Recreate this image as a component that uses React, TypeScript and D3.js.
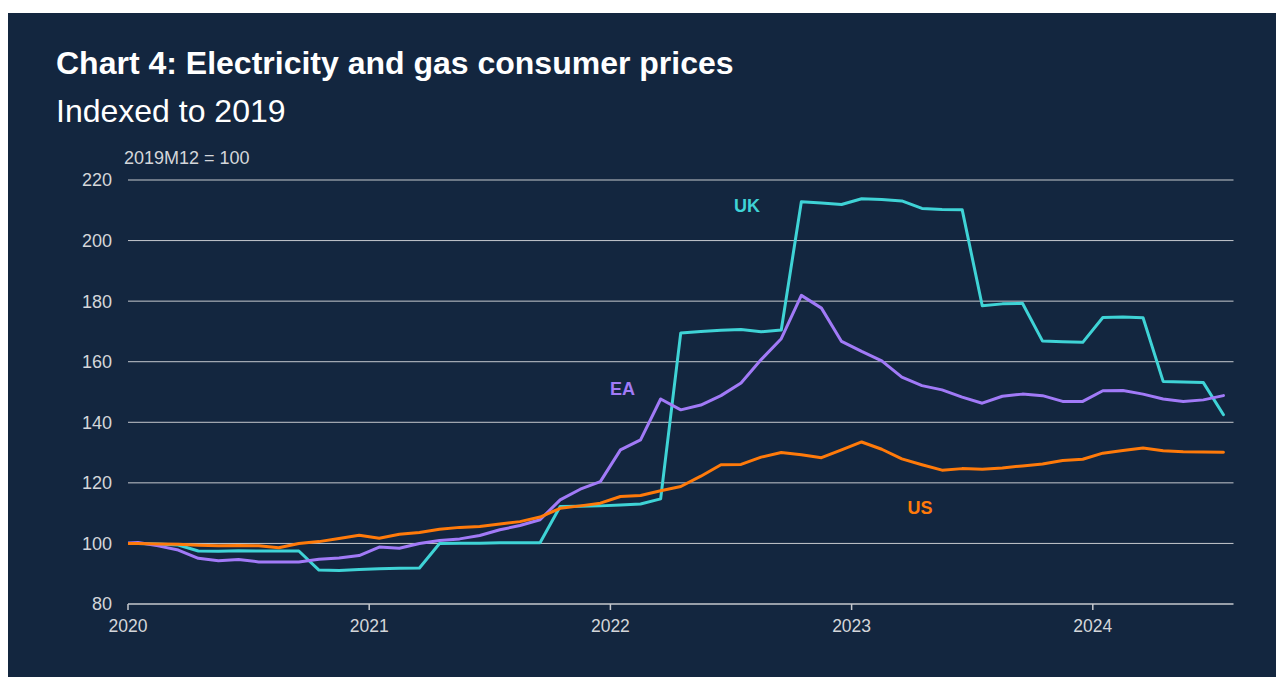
import React from "react";
import * as d3 from "d3";

// Months from 2019M12 to 2024M7 (index -1 = Dec 2019, 0 = Jan 2020)
const startYear = 2019;
const startMonth = 11; // December (0-based)

const ukValues = [
  100,
  100, 99.8, 99.5, 97.5, 97.4, 97.6, 97.5, 97.5, 97.5, 91.2, 91.1, 91.4,
  91.6, 91.8, 91.9, 100.0, 100.1, 100.1, 100.2, 100.2, 100.2, 112.2, 112.3, 112.4,
  112.7, 113.0, 114.7, 169.5, 170.0, 170.4, 170.6, 169.9, 170.5, 212.8, 212.4, 211.9,
  213.8, 213.6, 213.1, 210.6, 210.3, 210.2, 178.5, 179.1, 179.3, 166.8, 166.6, 166.4,
  174.6, 174.8, 174.5, 153.5, 153.3, 153.1, 142.5,
];

const eaValues = [
  100,
  100.3, 99.2, 97.8, 95.1, 94.3, 94.7, 93.9, 93.9, 93.9, 94.8, 95.2, 96.0,
  98.8, 98.4, 100.0, 101.0, 101.5, 102.6, 104.5, 105.9, 107.8, 114.4, 117.9, 120.4,
  130.9, 134.2, 147.7, 144.1, 145.7, 148.8, 153.0, 160.7, 167.6, 181.9, 177.7, 166.7,
  163.4, 160.3, 154.9, 152.1, 150.7, 148.3, 146.3, 148.6, 149.3, 148.8, 146.9, 146.9,
  150.4, 150.5, 149.3, 147.7, 146.9, 147.4, 148.8,
];

const usValues = [
  100,
  100.0, 99.8, 99.7, 99.4, 99.2, 99.3, 99.2, 98.6, 100.0, 100.6, 101.6, 102.7,
  101.7, 103.0, 103.6, 104.7, 105.3, 105.6, 106.4, 107.2, 108.7, 111.6, 112.4, 113.3,
  115.5, 115.8, 117.4, 118.8, 122.2, 126.0, 126.1, 128.5, 130.0, 129.3, 128.3, 130.9,
  133.5, 131.1, 127.9, 126.0, 124.2, 124.7, 124.5, 124.9, 125.6, 126.2, 127.4, 127.8,
  129.8, 130.7, 131.5, 130.6, 130.3, 130.2, 130.1,
];

const yearTicks = [2020, 2021, 2022, 2023, 2024];
const yTicks = [80, 100, 120, 140, 160, 180, 200, 220];

const seriesNames = ["UK", "EA", "US"];
const seriesColors = ["#3fd3d6", "#a17af7", "#ff7a0a"];

const W = 1276;
const H = 677;
const plot = { left: 128, right: 1233.5, top: 180, bottom: 604 };

export default function App() {
  // month index relative to Jan 2020; domain covers Jan 2020 .. Aug 2024
  const x = d3.scaleLinear().domain([0, 55]).range([plot.left, plot.right]);
  const y = d3.scaleLinear().domain([80, 220]).range([plot.bottom, plot.top]);

  const monthIndex = (i: number) => {
    const total = startYear * 12 + startMonth + i;
    return total - 2020 * 12 + 0.5; // mid-month
  };

  const line = d3
    .line<number>()
    .x((_, i) => x(monthIndex(i)))
    .y((v) => y(v));

  const allSeries = [ukValues, eaValues, usValues];
  const labelPos = [
    { m: 30.8, v: 209.4 },
    { m: 24.6, v: 149.1 },
    { m: 39.4, v: 109.7 },
  ];

  return (
    <svg
      width={W}
      height={H}
      style={{ position: "fixed", left: 0, top: 0, display: "block" }}
      fontFamily="'Liberation Sans', Arial, sans-serif"
    >
      <defs>
        <clipPath id="plotClip">
          <rect x={plot.left} y={0} width={plot.right - plot.left + 6} height={H} />
        </clipPath>
      </defs>
      <rect x={0} y={0} width={W} height={H} fill="#ffffff" />
      <rect x={8} y={13} width={W - 8} height={H - 13} fill="#13263f" />

      <text x={56} y={74} fill="#ffffff" fontSize={32} fontWeight="bold">
        Chart 4: Electricity and gas consumer prices
      </text>
      <text x={56} y={122} fill="#ffffff" fontSize={32}>
        Indexed to 2019
      </text>
      <text x={124} y={164} fill="#d4d6da" fontSize={18}>
        2019M12 = 100
      </text>

      {yTicks.map((t) => (
        <g key={t}>
          {t !== 80 && (
            <line
              x1={plot.left}
              x2={plot.right}
              y1={y(t)}
              y2={y(t)}
              stroke="#c6c9ce"
              strokeWidth={1}
            />
          )}
          <text
            x={112}
            y={y(t)}
            dy="0.36em"
            textAnchor="end"
            fill="#d4d6da"
            fontSize={18}
          >
            {t}
          </text>
        </g>
      ))}

      <line
        x1={plot.left}
        x2={plot.right}
        y1={plot.bottom}
        y2={plot.bottom}
        stroke="#c6c9ce"
        strokeWidth={1.5}
      />
      {yearTicks.map((yr) => {
        const xx = x((yr - 2020) * 12);
        return (
          <g key={yr}>
            <line x1={xx} x2={xx} y1={plot.bottom} y2={plot.bottom + 6} stroke="#c6c9ce" strokeWidth={1.5} />
            <text x={xx} y={632} textAnchor="middle" fill="#d4d6da" fontSize={17.5}>
              {yr}
            </text>
          </g>
        );
      })}

      <g clipPath="url(#plotClip)">
        {allSeries.map((s, k) => (
          <path
            key={seriesNames[k]}
            d={line(s) || ""}
            fill="none"
            stroke={seriesColors[k]}
            strokeWidth={3}
            strokeLinejoin="round"
            strokeLinecap="round"
          />
        ))}
      </g>

      {seriesNames.map((n, k) => (
        <text
          key={n}
          x={x(labelPos[k].m)}
          y={y(labelPos[k].v)}
          textAnchor="middle"
          fill={seriesColors[k]}
          fontSize={18}
          fontWeight="bold"
        >
          {n}
        </text>
      ))}
    </svg>
  );
}
